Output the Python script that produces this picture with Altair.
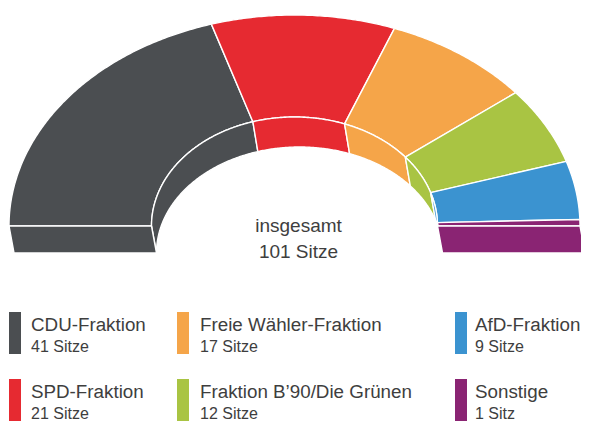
import numpy as np
import pandas as pd
import altair as alt

# ---- data -------------------------------------------------------------
parties = ["CDU-Fraktion", "SPD-Fraktion", "Freie Wähler-Fraktion",
           "Fraktion B’90/Die Grünen", "AfD-Fraktion", "Sonstige"]
seats = [41, 21, 17, 12, 9, 1]
seat_labels = ["41 Sitze", "21 Sitze", "17 Sitze", "12 Sitze", "9 Sitze", "1 Sitz"]
colors = ["#4b4e51", "#e62a31", "#f5a549", "#a9c443", "#3b93d0", "#8a2473"]
center_label = ["insgesamt", f"{sum(seats)} Sitze"]

# ---- geometry (page pixel space) --------------------------------------
CX, CY = 294.5, 226.0
RX_O, RY_O = 285.5, 211.0
RX_I, RY_I = 143.0, 109.0
RY_I_LOW = 106.0
DX, DY = 5.0, 27.0


def pt(rx, ry, a, cx=CX, cy=CY):
    r = np.radians(a)
    return cx + rx * np.cos(r), cy - ry * np.sin(r)


rows = []


def add(poly, pid, party):
    poly = list(poly) + [poly[0]]
    for i, (x, y) in enumerate(poly):
        rows.append({"pid": pid, "party": party, "i": i, "x": x, "y": y})


total = sum(seats)
cum = 0
for k, (p, s) in enumerate(zip(parties, seats)):
    a1 = 180 - 180 * cum / total
    a2 = 180 - 180 * (cum + s) / total
    cum += s
    n = max(4, int(abs(a1 - a2) * 2))
    angs = np.linspace(a1, a2, n)
    top = [pt(RX_O, RY_O, a) for a in angs] + [pt(RX_I, RY_I, a) for a in angs[::-1]]
    add(top, f"top{k}", p)
    wall = [pt(RX_I, RY_I, a) for a in angs] + \
           [pt(RX_I, RY_I_LOW, a, CX + DX, CY + DY) for a in angs[::-1]]
    add(wall, f"wall{k}", p)

for k, a in [(0, 180.0), (len(parties) - 1, 0.0)]:
    front = [pt(RX_O, RY_O, a), pt(RX_I, RY_I, a),
             pt(RX_I, RY_I_LOW, a, CX + DX, CY + DY),
             pt(RX_O, RY_O, a, CX + DX, CY + DY)]
    add(front, f"front{k}", parties[k])

poly_df = pd.DataFrame(rows)

# legend layout
COL_X = [9, 177, 455]
TEXT_X = [31, 200, 475]
ROW_Y0, ROW_DY = 312, 67
leg = pd.DataFrame({
    "party": parties,
    "seats": seat_labels,
})
leg["col"] = [i // 2 for i in range(len(parties))]
leg["row"] = [i % 2 for i in range(len(parties))]
leg["sx"] = [COL_X[c] for c in leg["col"]]
leg["sx2"] = leg["sx"] + 12
leg["tx"] = [TEXT_X[c] for c in leg["col"]]
leg["sy"] = ROW_Y0 + leg["row"] * ROW_DY
leg["sy2"] = leg["sy"] + 42
leg["ny"] = leg["sy"] + 18.5
leg["cy"] = leg["sy"] + 40

center_df = pd.DataFrame({"t": center_label, "x": [298.5, 298.5], "y": [232, 258]})

W, H = 573, 415
xs = alt.Scale(domain=[8, 8 + W], nice=False, zero=False)
ys = alt.Scale(domain=[8, 8 + H], nice=False, zero=False, reverse=True)
cs = alt.Scale(domain=parties, range=colors)
FONT = "Liberation Sans"
TXT = "#3e3e3e"

shapes = alt.Chart(poly_df).mark_line(
    stroke="white", strokeWidth=1.4, strokeJoin="round", interpolate="linear"
).encode(
    x=alt.X("x:Q", scale=xs, axis=None),
    y=alt.Y("y:Q", scale=ys, axis=None),
    fill=alt.Fill("party:N", scale=cs, legend=None),
    detail="pid:N",
    order="i:Q",
)

swatches = alt.Chart(leg).mark_rect().encode(
    x=alt.X("sx:Q", scale=xs, axis=None), x2="sx2:Q",
    y=alt.Y("sy:Q", scale=ys, axis=None), y2="sy2:Q",
    color=alt.Color("party:N", scale=cs, legend=None),
)

names = alt.Chart(leg).mark_text(
    align="left", baseline="alphabetic", font=FONT, fontSize=18.8, color=TXT
).encode(
    x=alt.X("tx:Q", scale=xs, axis=None),
    y=alt.Y("ny:Q", scale=ys, axis=None),
    text="party:N",
)

counts = alt.Chart(leg).mark_text(
    align="left", baseline="alphabetic", font=FONT, fontSize=16, color=TXT
).encode(
    x=alt.X("tx:Q", scale=xs, axis=None),
    y=alt.Y("cy:Q", scale=ys, axis=None),
    text="seats:N",
)

center = alt.Chart(center_df).mark_text(
    align="center", baseline="alphabetic", font=FONT, fontSize=19, color=TXT
).encode(
    x=alt.X("x:Q", scale=xs, axis=None),
    y=alt.Y("y:Q", scale=ys, axis=None),
    text="t:N",
)

chart = alt.layer(shapes, swatches, names, counts, center).properties(
    width=W, height=H, padding=0, autosize=alt.AutoSizeParams(type="none"),
    background="white",
).configure_view(strokeWidth=0)

chart.save("out.html", embed_options={"renderer": "svg", "actions": False})
